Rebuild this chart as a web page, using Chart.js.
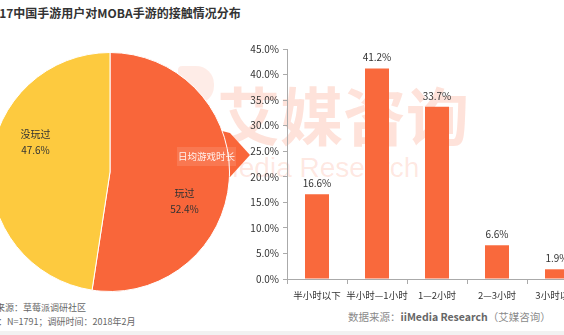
<!DOCTYPE html>
<html>
<head>
<meta charset="utf-8">
<script src="https://cdn.jsdelivr.net/npm/chart.js@4.4.1/dist/chart.umd.min.js"></script>
<style>
  body { margin: 0; width: 564px; height: 335px; overflow: hidden; background: #fff; position: relative;
         font-family: "Noto Sans CJK SC", "Noto Sans", sans-serif; }
  .abs { position: absolute; white-space: nowrap; }
  #logo { left: 178px; top: 66px; width: 36px; height: 38px; border-radius: 4px 18px 18px 4px; background: rgba(249, 110, 70, 0.13); }
  #wm1 { left: 217px; top: 81px; font-size: 63px; line-height: 64px; font-weight: bold; color: rgba(249, 110, 70, 0.2); }
  #wm2 { left: 203px; top: 154px; font-size: 28px; line-height: 27px; color: rgba(249, 110, 70, 0.16); font-family: "Liberation Sans", sans-serif; }
  #title { left: -15px; top: 4px; font-size: 12px; font-weight: bold; color: #333; line-height: 18px; }
  .note { font-size: 9px; color: #666; line-height: 12px; }
  #src { left: 348px; top: 310px; font-size: 10.5px; color: #8a8a8a; line-height: 14px; }
  #src b { color: #666; }
  #band { left: 0; top: 331px; width: 564px; height: 4px; background: #f2f2f2; }
  #pieWrap { left: -10px; top: 52px; width: 240px; height: 240px; }
  #barWrap { left: 230px; top: 39px; width: 357px; height: 270px; }
  #arrowTxt { left: 177px; top: 147px; width: 59px; height: 19px; background: rgba(255,255,255,0.12);
              color: rgba(255,255,255,0.9); font-size: 9.5px; line-height: 19px; text-align: center; }
</style>
</head>
<body>
<div class="abs" id="logo"></div>
<div class="abs" id="wm1">艾媒咨询</div>
<div class="abs" id="wm2">iiMedia Research</div>
<div class="abs" id="title">2017中国手游用户对MOBA手游的接触情况分布</div>

<svg class="abs" style="left:0;top:0" width="564" height="335">
  <polygon points="222,131 230,133 250,155 230,177 222,180" fill="#F9663A"/>
</svg>
<div class="abs" id="pieWrap"><canvas id="pieChart" width="240" height="240"></canvas></div>
<div class="abs" id="arrowTxt">日均游戏时长</div>
<div class="abs" id="barWrap"><canvas id="barChart" width="357" height="270"></canvas></div>

<div class="abs note" style="left:-22px;top:302px">数据来源：草莓派调研社区</div>
<div class="abs note" style="left:-20px;top:316px">样本：N=1791；调研时间：2018年2月</div>
<div class="abs" id="src">数据来源：<b>iiMedia Research</b>（艾媒咨询）</div>
<div class="abs" id="band"></div>

<script>
// pie data
var pieLabels = ['玩过', '没玩过'];
var pieValues = [52.4, 47.6];
var pieColors = ['#F9663A', '#FDCA3F'];

// bar data
var barLabels = ['半小时以下', '半小时—1小时', '1—2小时', '2—3小时', '3小时以上'];
var barValues = [16.6, 41.2, 33.7, 6.6, 1.9];
var yTicks = [0, 5, 10, 15, 20, 25, 30, 35, 40, 45];

var cjk = '"Noto Sans CJK SC", "Noto Sans", sans-serif';

// labels inside the pie slices
var pieText = {
  id: 'pieText',
  afterDatasetsDraw: function (chart) {
    var ctx = chart.ctx;
    var meta = chart.getDatasetMeta(0);
    ctx.save();
    ctx.font = '10px ' + cjk;
    ctx.fillStyle = '#333';
    ctx.textAlign = 'center';
    ctx.textBaseline = 'middle';
    meta.data.forEach(function (arc, i) {
      var p = arc.getProps(['x', 'y', 'startAngle', 'endAngle', 'outerRadius'], true);
      var a = (p.startAngle + p.endAngle) / 2 + 0.3;
      var r = p.outerRadius * 0.67;
      var x = p.x + Math.cos(a) * r;
      var y = p.y + Math.sin(a) * r;
      ctx.fillText(pieLabels[i], x, y - 8);
      ctx.fillText(pieValues[i].toFixed(1) + '%', x, y + 8);
    });
    ctx.restore();
  }
};

var barText = {
  id: 'barText',
  afterDatasetsDraw: function (chart) {
    var ctx = chart.ctx;
    var meta = chart.getDatasetMeta(0);
    ctx.save();
    ctx.font = '10px ' + cjk;
    ctx.fillStyle = '#333';
    ctx.textAlign = 'center';
    ctx.textBaseline = 'middle';
    meta.data.forEach(function (bar, i) {
      ctx.fillText(barValues[i].toFixed(1) + '%', bar.x, bar.y - 11);
    });
    ctx.restore();
  }
};

new Chart(document.getElementById('pieChart').getContext('2d'), {
  type: 'pie',
  data: {
    labels: pieLabels,
    datasets: [{
      data: pieValues,
      backgroundColor: pieColors,
      borderColor: '#fff',
      borderWidth: 1
    }]
  },
  options: {
    responsive: false,
    animation: false,
    layout: { padding: 0 },
    plugins: { legend: { display: false }, tooltip: { enabled: false } }
  },
  plugins: [pieText]
});

new Chart(document.getElementById('barChart').getContext('2d'), {
  type: 'bar',
  data: {
    labels: barLabels,
    datasets: [{
      data: barValues,
      backgroundColor: '#F9693C',
      barPercentage: 0.4,
      categoryPercentage: 1
    }]
  },
  options: {
    responsive: false,
    animation: false,
    layout: { padding: { top: 10, left: 0, right: 0, bottom: 0 } },
    plugins: { legend: { display: false }, tooltip: { enabled: false } },
    scales: {
      x: {
        afterFit: function (s) { s.height = 30; },
        grid: { drawOnChartArea: false, offset: true, tickLength: 5, color: '#aaa' },
        border: { color: '#aaa' },
        ticks: { color: '#333', padding: 6, maxRotation: 0, autoSkip: false, font: { size: 9.5, family: cjk } }
      },
      y: {
        min: 0,
        max: 45,
        afterFit: function (s) { s.width = 57; },
        afterBuildTicks: function (s) { s.ticks = yTicks.map(function (v) { return { value: v }; }); },
        grid: { drawOnChartArea: false, tickLength: 4, color: '#aaa' },
        border: { color: '#aaa' },
        ticks: {
          color: '#333', padding: 4,
          font: { size: 10, family: cjk },
          callback: function (v) { return v.toFixed(1) + '%'; }
        }
      }
    }
  },
  plugins: [barText]
});
</script>
</body>
</html>
